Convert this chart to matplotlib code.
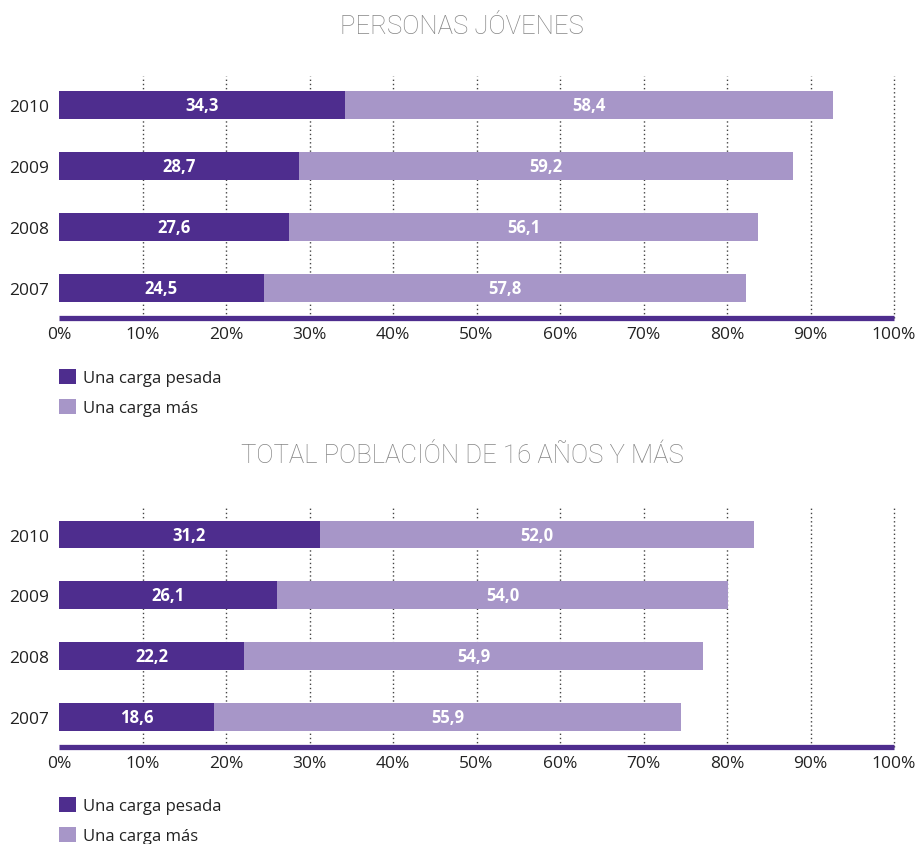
import numpy as np
import matplotlib.pyplot as plt

years = ['2007', '2008', '2009', '2010']

# personas jóvenes
jov_pesada = [24.5, 27.6, 28.7, 34.3]
jov_mas = [57.8, 56.1, 59.2, 58.4]

# total población de 16 años y más
tot_pesada = [18.6, 22.2, 26.1, 31.2]
tot_mas = [55.9, 54.9, 54.0, 52.0]

titles = ['PERSONAS JÓVENES', 'TOTAL POBLACIÓN DE 16 AÑOS Y MÁS']
legend_labels = ['Una carga pesada', 'Una carga más']
xticks = np.arange(0, 101, 10)

dark = '#4e2d8e'
light = '#a796c8'

W, H = 917, 845
fig = plt.figure(figsize=(W / 100, H / 100), dpi=100)
plt.rcParams['font.family'] = ['Open Sans', 'DejaVu Sans']


def fmt(v):
    return ('%.1f' % v).replace('.', ',')


def panel(top, axis_y, title_y, leg_y, title, pesada, mas):
    ax = fig.add_axes([59 / W, 1 - axis_y / H, 835 / W, (axis_y - top) / H])
    y = np.arange(len(years))
    b1 = ax.barh(y, pesada, height=0.46, color=dark, zorder=3)
    b2 = ax.barh(y, mas, left=pesada, height=0.46, color=light, zorder=3)
    for i in range(len(years)):
        ax.text(pesada[i] / 2, y[i], fmt(pesada[i]), ha='center', va='center',
                color='white', fontsize=12, fontweight='bold', zorder=4)
        ax.text(pesada[i] + mas[i] / 2, y[i], fmt(mas[i]), ha='center', va='center',
                color='white', fontsize=12, fontweight='bold', zorder=4)
    ax.set_xlim(0, 100)
    ax.set_ylim(-0.50, 3.47)
    ax.set_yticks(y)
    ax.set_yticklabels(years, fontsize=12.5, color='#222222')
    ax.set_xticks(xticks)
    ax.set_xticklabels(['%d%%' % t for t in xticks], fontsize=12.5, color='#222222')
    ax.tick_params(axis='both', length=0)
    ax.tick_params(axis='x', pad=6)
    ax.tick_params(axis='y', pad=7)
    ax.xaxis.grid(True, linestyle=(0, (1, 2)), color='#444444', linewidth=1.0, zorder=0)
    for g in ax.get_xgridlines():
        g.set_clip_on(False)
    ax.get_xgridlines()[0].set_visible(False)
    ax.set_axisbelow(True)
    for s in ['top', 'right', 'left']:
        ax.spines[s].set_visible(False)
    ax.spines['bottom'].set_color(dark)
    ax.spines['bottom'].set_linewidth(3.8)
    ax.spines['bottom'].set_capstyle('butt')
    fig.text(462 / W, 1 - title_y / H, title, ha='center', va='center',
             fontsize=18.5, color='#858585', family=['Roboto', 'DejaVu Sans'],
             fontweight='light')
    fig.legend([b1, b2], legend_labels, loc='upper left',
               bbox_to_anchor=(46 / W, 1 - leg_y / H), frameon=False,
               fontsize=12, handlelength=1.0, handleheight=1.0,
               handletextpad=0.4, labelspacing=0.75, labelcolor='#222222',
               borderpad=0.3)


panel(77, 319, 27, 357, titles[0], jov_pesada, jov_mas)
panel(507, 748, 456, 785, titles[1], tot_pesada, tot_mas)

fig.savefig('out.png', dpi=100)
